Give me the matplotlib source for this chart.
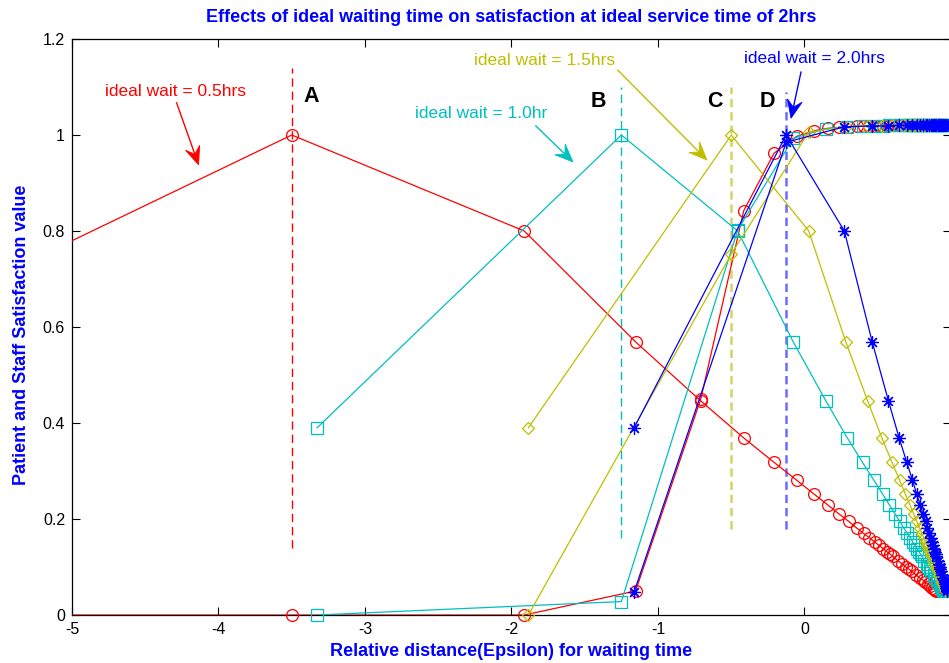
import matplotlib
matplotlib.use("Agg")
import matplotlib.pyplot as plt
import numpy as np
from matplotlib.patches import Polygon
from matplotlib.transforms import IdentityTransform

plt.rcParams['font.family'] = ['Liberation Sans', 'DejaVu Sans']
plt.rcParams['axes.unicode_minus'] = False
plt.rcParams['lines.scale_dashes'] = False

# Relative distance (epsilon) of each sample, one list per ideal waiting time
x_red = [-7.654, -3.5, -1.913, -1.153, -0.708, -0.415, -0.208, -0.054, 0.065, 0.160,
         0.238, 0.302, 0.357, 0.403, 0.443, 0.479, 0.510, 0.537, 0.562, 0.584,
         0.604, 0.638, 0.668, 0.692, 0.714, 0.732, 0.763, 0.787, 0.807, 0.824,
         0.844, 0.860, 0.873, 0.883, 0.893, 0.900]
x_cyan = [-3.327, -1.25, -0.456, -0.077, 0.146, 0.292, 0.396, 0.473, 0.533, 0.580,
          0.619, 0.651, 0.678, 0.702, 0.722, 0.739, 0.755, 0.769, 0.781, 0.792,
          0.802, 0.819, 0.834, 0.846, 0.857, 0.866, 0.882, 0.894, 0.904, 0.912,
          0.922, 0.930, 0.936, 0.942, 0.946, 0.950]
x_yellow = [-1.885, -0.5, 0.029, 0.282, 0.431, 0.528, 0.597, 0.649, 0.688, 0.720,
            0.746, 0.767, 0.786, 0.801, 0.814, 0.826, 0.837, 0.846, 0.854, 0.861,
            0.868, 0.879, 0.889, 0.897, 0.905, 0.911, 0.921, 0.929, 0.936, 0.941,
            0.948, 0.953, 0.958, 0.961, 0.964, 0.967]
x_blue = [-1.163, -0.125, 0.272, 0.462, 0.573, 0.646, 0.698, 0.737, 0.766, 0.790,
          0.809, 0.826, 0.839, 0.851, 0.861, 0.870, 0.877, 0.884, 0.890, 0.896,
          0.901, 0.910, 0.917, 0.923, 0.928, 0.933, 0.941, 0.947, 0.952, 0.956,
          0.961, 0.965, 0.968, 0.971, 0.973, 0.975]

# Satisfaction that peaks at the ideal waiting time (same profile for every case)
peak_curve = [0.39, 1.0, 0.80, 0.569, 0.446, 0.369, 0.318, 0.281, 0.252, 0.229,
              0.210, 0.195, 0.181, 0.170, 0.161, 0.152, 0.145, 0.138, 0.132, 0.127,
              0.122, 0.113, 0.106, 0.100, 0.095, 0.091, 0.083, 0.077, 0.073, 0.069,
              0.064, 0.060, 0.057, 0.054, 0.052, 0.050]

# Satisfaction that rises towards the plateau
rise_red = [0.0, 0.0, 0.0, 0.050, 0.450, 0.842, 0.962, 0.997, 1.009, 1.014,
            1.016, 1.017, 1.018, 1.018, 1.019, 1.019, 1.019, 1.019, 1.019, 1.020,
            1.020, 1.020, 1.020, 1.020, 1.020, 1.020, 1.020, 1.020, 1.020, 1.020,
            1.020, 1.020, 1.020, 1.020, 1.020, 1.020]
rise_cyan = [0.0, 0.028, 0.802, 0.993, 1.013, 1.017, 1.018, 1.019, 1.019, 1.020,
             1.020, 1.020, 1.020, 1.020, 1.020, 1.020, 1.020, 1.020, 1.020, 1.020,
             1.020, 1.020, 1.020, 1.020, 1.020, 1.020, 1.020, 1.020, 1.020, 1.020,
             1.020, 1.020, 1.020, 1.020, 1.020, 1.020]
rise_yellow = [0.0, 0.752, 1.006, 1.017, 1.019, 1.019, 1.020, 1.020, 1.020, 1.020,
               1.020, 1.020, 1.020, 1.020, 1.020, 1.020, 1.020, 1.020, 1.020, 1.020,
               1.020, 1.020, 1.020, 1.020, 1.020, 1.020, 1.020, 1.020, 1.020, 1.020,
               1.020, 1.020, 1.020, 1.020, 1.020, 1.020]
rise_blue = [0.048, 0.985, 1.017, 1.019, 1.019, 1.020, 1.020, 1.020, 1.020, 1.020,
             1.020, 1.020, 1.020, 1.020, 1.020, 1.020, 1.020, 1.020, 1.020, 1.020,
             1.020, 1.020, 1.020, 1.020, 1.020, 1.020, 1.020, 1.020, 1.020, 1.020,
             1.020, 1.020, 1.020, 1.020, 1.020, 1.020]

wait_labels = ["ideal wait = 0.5hrs", "ideal wait = 1.0hr",
               "ideal wait = 1.5hrs", "ideal wait = 2.0hrs"]
point_letters = ["A", "B", "C", "D"]
guide_low = [0.14, 0.16, 0.18, 0.18]
guide_high = [1.14, 1.10, 1.10, 1.09]

x_ticks = [-5, -4, -3, -2, -1, 0, 1]
x_tick_labels = ["-5", "-4", "-3", "-2", "-1", "0", ""]
y_ticks = [0, 0.2, 0.4, 0.6, 0.8, 1.0, 1.2]
y_tick_labels = ["0", "0.2", "0.4", "0.6", "0.8", "1", "1.2"]

RED, CYAN, YELLOW, BLUE = "#ff0000", "#00bfbf", "#bfbf00", "#0000ff"

W, H = 949, 663
fig = plt.figure(figsize=(W / 100, H / 100), dpi=100)
ax = fig.add_axes([72 / W, 1 - 615 / H, (951 - 72) / W, (615 - 39) / H])
ax.set_xlim(-5, 1)
ax.set_ylim(0, 1.2)

series = [
    (x_red, rise_red, RED, "o", 8.5),
    (x_cyan, rise_cyan, CYAN, "s", 8.0),
    (x_yellow, rise_yellow, YELLOW, "D", 6.3),
    (x_blue, rise_blue, BLUE, (8, 2, 0), 9.0),
]

for xs, rise, col, mk, ms in series:
    xs = np.asarray(xs)
    for ys in (np.asarray(rise), np.asarray(peak_curve)):
        ax.plot(xs, ys, color=col, lw=0.9, zorder=3)
        inside = xs >= -5
        ax.plot(xs[inside], ys[inside], ls="none", marker=mk, ms=ms,
                mfc="none", mec=col, mew=0.9, zorder=3, clip_on=False)

# vertical guides at each ideal waiting time
guide_styles = [(RED, 1.0), (CYAN, 1.0), ("#d2d266", 1.8), ("#6b6bff", 1.8)]
for (xs, rise, col, mk, ms), (gc, glw), lo, hi in zip(series, guide_styles,
                                                       guide_low, guide_high):
    ax.plot([xs[1], xs[1]], [lo, hi], color=gc, lw=glw, dashes=(6, 3.5), zorder=2)

# letters marking the optimum points
letter_pos = [(-3.37, 1.08), (-1.41, 1.07), (-0.61, 1.07), (-0.255, 1.07)]
for (lx, ly), s in zip(letter_pos, point_letters):
    ax.text(lx, ly, s, fontsize=15.5, fontweight="bold", ha="center",
            va="center", color="black")

# callouts with arrows
callouts = [
    ((-4.293, 1.090), (-4.286, 1.067), (-4.136, 0.938), RED),
    ((-2.210, 1.044), (-1.834, 1.019), (-1.581, 0.944), CYAN),
    ((-1.773, 1.156), (-1.274, 1.135), (-0.666, 0.948), YELLOW),
    ((0.065, 1.160), (-0.024, 1.131), (-0.092, 1.035), BLUE),
]


def arrow(start, tip, col, L=18.0, Wd=15.0):
    T = ax.transData
    s = np.asarray(T.transform(start))
    t = np.asarray(T.transform(tip))
    d = t - s
    u = d / np.hypot(*d)
    n = np.array([-u[1], u[0]])
    base = t - L * u
    notch = t - 0.62 * L * u
    nd = T.inverted().transform(notch)
    ax.plot([start[0], nd[0]], [start[1], nd[1]], color=col, lw=1.0,
            clip_on=False, zorder=4)
    poly = Polygon([t, base + Wd / 2 * n, notch, base - Wd / 2 * n], closed=True,
                   transform=IdentityTransform(), fc=col, ec=col, lw=0.6,
                   clip_on=False, zorder=4)
    fig.add_artist(poly)


for (tp, st, tip, col), lab in zip(callouts, wait_labels):
    ax.text(tp[0], tp[1], lab, color=col, fontsize=12.5, ha="center",
            va="center")
    arrow(st, tip, col)

ax.set_xticks(x_ticks)
ax.set_xticklabels(x_tick_labels)
ax.set_yticks(y_ticks)
ax.set_yticklabels(y_tick_labels)
ax.tick_params(direction="in", length=6, width=0.8, top=True, right=True,
               labelsize=11.5, pad=5)
for sp in ax.spines.values():
    sp.set_linewidth(0.9)

fig.text(511 / W, 1 - 18 / H,
         "Effects of ideal waiting time on satisfaction at ideal service time of 2hrs",
         color=BLUE, fontsize=13, fontweight="bold", ha="center", va="center")
fig.text(511 / W, 1 - 652 / H, "Relative distance(Epsilon) for waiting time",
         color=BLUE, fontsize=13, fontweight="bold", ha="center", va="center")
fig.text(22 / W, 1 - 335 / H, "Patient and Staff Satisfaction value",
         color=BLUE, fontsize=13, fontweight="bold", ha="center", va="center",
         rotation=90)

fig.savefig("out.png", dpi=100)
